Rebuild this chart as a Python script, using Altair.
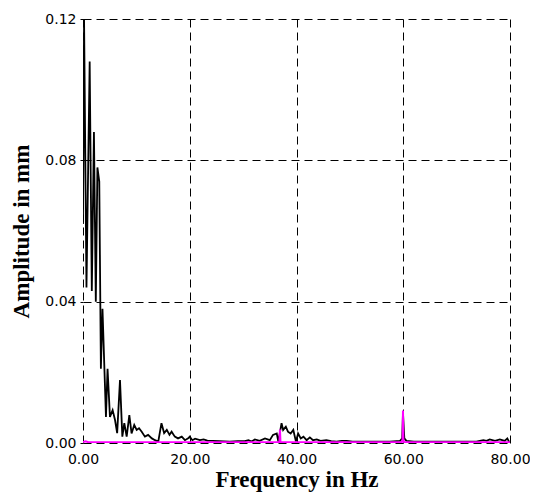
import altair as alt
import pandas as pd

# Black spectrum (frequency in Hz, amplitude in mm)
black_freq = [0.0, 0.2, 0.65, 1.25, 1.65, 2.05, 2.4, 2.7, 3.05, 3.35, 3.65, 4.3, 4.6, 5.05,
              5.55, 6.0, 6.4, 6.93, 7.37, 7.74, 8.18, 8.68, 9.1, 9.6, 10.05, 10.5, 11.0,
              11.6, 12.2, 12.9, 13.5, 14.1, 14.7, 15.2, 15.7, 16.2, 16.6, 17.2, 17.8, 18.5,
              19.1, 19.7, 20.0, 20.5, 21.0, 21.9, 22.6, 23.3, 24.3, 25.5, 27.5, 29.0, 30.3,
              31.0, 31.6, 32.2, 33.1, 34.1, 35.0, 35.6, 36.3, 36.6, 37.2, 37.5, 38.0, 38.4,
              38.9, 39.4, 39.9, 40.3, 40.8, 41.3, 41.9, 42.5, 43.1, 43.8, 44.5, 45.6, 46.5,
              47.5, 48.5, 49.4, 50.5, 51.3, 53.1, 55.6, 57.5, 59.4, 59.8, 59.95, 60.2, 60.6,
              62.0, 66.2, 70.0, 73.7, 75.0, 75.6, 76.2, 77.2, 78.1, 79.0, 79.5, 79.9]
black_amp = [0.062, 0.120, 0.044, 0.108, 0.043, 0.088, 0.040, 0.078, 0.074, 0.021, 0.038,
             0.0074, 0.021, 0.0074, 0.0093, 0.0065, 0.0028, 0.0178, 0.0018, 0.0056, 0.0018,
             0.0079, 0.0027, 0.0051, 0.0037, 0.0042, 0.0032, 0.0018, 0.0023, 0.0013, 0.0008,
             0.0004, 0.0056, 0.0028, 0.0037, 0.0023, 0.0032, 0.0018, 0.0013, 0.0018, 0.0008,
             0.0013, 0.0018, 0.0008, 0.0012, 0.0008, 0.0010, 0.0007, 0.0006, 0.0005, 0.0004,
             0.0005, 0.0005, 0.0008, 0.0004, 0.0010, 0.0006, 0.0013, 0.0008, 0.0023, 0.0027,
             0.0004, 0.0056, 0.0037, 0.0046, 0.0032, 0.0027, 0.0037, 0.0004, 0.0027, 0.0013,
             0.0018, 0.0008, 0.0016, 0.0008, 0.0010, 0.0006, 0.0008, 0.0005, 0.0004, 0.0006,
             0.0006, 0.0004, 0.0004, 0.0004, 0.0004, 0.0004, 0.0006, 0.0013, 0.0085, 0.0013,
             0.0006, 0.0004, 0.0004, 0.0004, 0.0004, 0.0008, 0.0006, 0.0010, 0.0006, 0.0010,
             0.0006, 0.0013, 0.0001]

# Magenta spectrum
mag_freq = [0.0, 0.5, 1.0, 10.0, 20.0, 30.0, 36.8, 36.9, 37.0, 50.0, 59.75, 59.88, 59.95,
            60.02, 60.15, 70.0, 80.0]
mag_amp = [0.0003, 0.0005, 0.0002, 0.0002, 0.0002, 0.0002, 0.0002, 0.0038, 0.0002, 0.0002,
           0.0003, 0.0010, 0.0092, 0.0010, 0.0003, 0.0002, 0.0002]

x_ticks = [0, 20, 40, 60, 80]
y_ticks = [0.0, 0.04, 0.08, 0.12]

df_black = pd.DataFrame({"f": black_freq, "a": black_amp})
df_mag = pd.DataFrame({"f": mag_freq, "a": mag_amp})

x_enc = alt.X("f:Q", scale=alt.Scale(domain=[0, 80], nice=False),
              axis=alt.Axis(values=x_ticks, format=".2f", title="Frequency in Hz",
                            titleY=43, titleBaseline="alphabetic", labelFlush=False,
                            labelPadding=9, tickSize=0))
y_enc = alt.Y("a:Q", scale=alt.Scale(domain=[0, 0.12], nice=False),
              axis=alt.Axis(values=y_ticks, format=".2f", title="Amplitude in mm",
                            titleX=-55, titleBaseline="alphabetic", labelFlush=False,
                            labelPadding=4, tickSize=3))

black = alt.Chart(df_black).mark_line(color="black", strokeWidth=1.8, clip=True).encode(
    x=x_enc, y=y_enc, order="f:Q")
mag = alt.Chart(df_mag).mark_line(color="#ff00ff", strokeWidth=2, clip=True).encode(
    x="f:Q", y="a:Q", order="f:Q")

chart = alt.layer(black, mag).properties(
    width=427, height=424,
    autosize=alt.AutoSizeParams(type="none"),
    padding={"left": 75, "top": 11, "right": 20, "bottom": 54},
).configure_view(stroke=None).configure_axis(
    grid=True, gridColor="black", gridOpacity=1, gridDash=[8, 5], gridWidth=1,
    domain=False, tickColor="black",
    labelFont="DejaVu Sans", labelFontSize=14, labelColor="black",
    titleFont="Liberation Serif", titleFontSize=23, titleFontWeight="bold",
    titleColor="black",
)

chart.save("out.html", embed_options={"renderer": "svg", "actions": False})
